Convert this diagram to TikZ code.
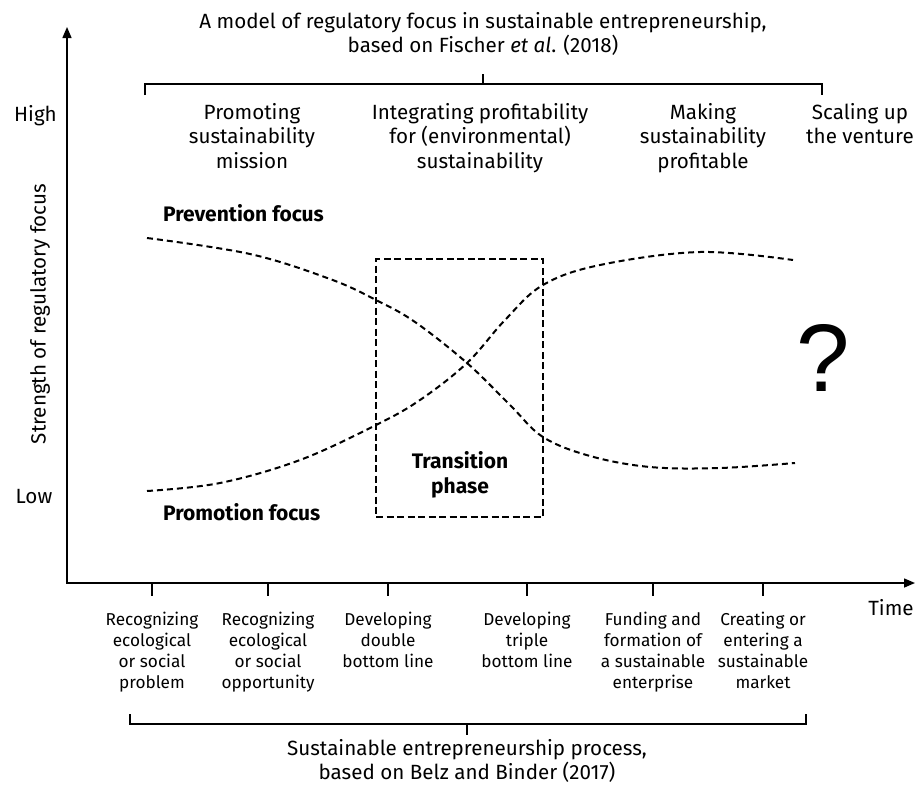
\documentclass[tikz,border=0pt]{standalone}
\usepackage{fontspec}
\setmainfont{Fira Sans}
\newfontfamily\qmarkfont{Liberation Sans}
\usetikzlibrary{arrows.meta, positioning}

\begin{document}
\begin{tikzpicture}[x=1pt, y=-1pt, >={Triangle[length=11pt, width=9pt]},
    toplabel/.style={align=center, inner sep=0pt, font=\fontsize{20.6}{24.5}\selectfont},
    steplabel/.style={align=center, inner sep=0pt, font=\fontsize{17.2}{20.8}\selectfont},
    focuslabel/.style={inner sep=0pt, font=\fontsize{21}{25}\selectfont\bfseries},
    focuscurve/.style={line width=2pt, dash pattern=on 6pt off 4pt},
    bracket/.style={line width=1.2pt}]
    \useasboundingbox (0,0) rectangle (915,790);

    % Axes
    \coordinate (ytop) at (67,27);
    \coordinate (origin) at (67,583);
    \coordinate (xend) at (915,583);
    \draw[line width=1.5pt, <->] (ytop) -- (origin) -- (xend);
    \node[toplabel, anchor=east] (high) at (57,116) {High};
    \node[toplabel] (low) at (34,497) {Low};
    \node[toplabel, rotate=90] (ylabel) at (40,314) {Strength of regulatory focus};
    \node[toplabel] (time) at (891,608) {Time};

    % Top: regulatory focus phases
    \node[toplabel] (fischer) at (483,34) {A model of regulatory focus in sustainable entrepreneurship,\\based on Fischer \textit{et al}. (2018)};
    \draw[bracket] (145,95) -- (145,84) -- (822,84) -- (822,95);
    \draw[bracket] (483,84) -- (483,74);
    \node[toplabel, anchor=north] (mission) at (252,103) {Promoting\\sustainability\\mission};
    \node[toplabel, anchor=north] (integrating) at (480,103) {Integrating profitability\\for (environmental)\\sustainability};
    \node[toplabel, anchor=north] (profitable) at (703,103) {Making\\sustainability\\profitable};
    \node[toplabel, anchor=north] (scaling) at (860,103) {Scaling up\\the venture};

    % Curves
    \draw[focuscurve] plot[smooth, tension=0.6] coordinates {(147,238) (250,254) (330,279) (376,300) (415,322) (467,363) (510,405) (543,437) (590,456) (650,467) (720,468) (795,463)};
    \draw[focuscurve] plot[smooth, tension=0.6] coordinates {(147,491) (220,483) (300,460) (376,425) (420,400) (467,363) (505,320) (543,285) (600,265) (700,252) (793,260)};
    \node[focuslabel, anchor=west] (prevention) at (163,213) {Prevention focus};
    \node[focuslabel, anchor=west] (promotion) at (163,512) {Promotion focus};

    % Transition box
    \node[draw, line width=1.2pt, dash pattern=on 7pt off 3.5pt, minimum width=167pt, minimum height=258pt] (transbox) at (459.5,388) {};
    \node[focuslabel, align=center] (transition) at (460,475) {Transition\\phase};
    \node[inner sep=0pt, font=\fontsize{96}{96}\qmarkfont] (unknown) at (823,358) {?};

    % Bottom: process steps
    \foreach \x/\name in {152/s1, 268/s2, 388/s3, 527/s4, 653/s5, 763/s6}
        \draw[bracket] (\x,583) -- (\x,596) coordinate (\name);
    \node[steplabel, below=16pt of s1] (problem) {Recognizing\\ecological\\or social\\problem};
    \node[steplabel, below=16pt of s2] (opportunity) {Recognizing\\ecological\\or social\\opportunity};
    \node[steplabel, below=16pt of s3] (double) {Developing\\double\\bottom line};
    \node[steplabel, below=16pt of s4] (triple) {Developing\\triple\\bottom line};
    \node[steplabel, below=16pt of s5] (funding) {Funding and\\formation of\\a sustainable\\enterprise};
    \node[steplabel, below=16pt of s6] (market) {Creating or\\entering a\\sustainable\\market};
    \draw[bracket] (130,714) -- (130,724) -- (806,724) -- (806,714);
    \draw[bracket] (467,724) -- (467,735);
    \node[toplabel] (belz) at (467,761) {Sustainable entrepreneurship process,\\based on Belz and Binder (2017)};
\end{tikzpicture}
\end{document}
